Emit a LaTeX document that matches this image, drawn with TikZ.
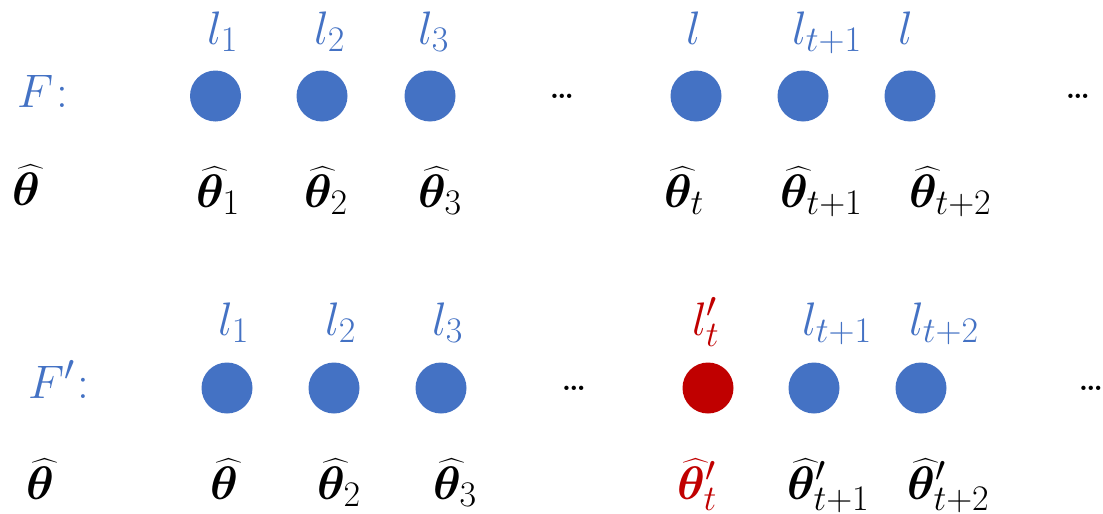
\RequirePackage{fix-cm}
\documentclass[tikz,border=0pt]{standalone}
\usepackage{amsmath,bm}
\DeclareMathSizes{47}{47}{36}{26}
\definecolor{pblue}{HTML}{4472C4}
\definecolor{pred}{HTML}{C00000}
\newcommand{\thh}{\widehat{\bm{\theta}}}
\begin{document}
\begin{tikzpicture}[x=1pt,y=-1pt,
  ball/.style={circle,fill=pblue,minimum size=51pt,inner sep=0pt},
  redball/.style={ball,fill=pred},
  lab/.style={anchor=base west,inner sep=0pt,font=\fontsize{47}{56}\selectfont},
  blab/.style={lab,text=pblue},
  rlab/.style={lab,text=pred},
  klab/.style={lab,text=black},
  dotsnode/.style={inner sep=0pt,font=\fontsize{30}{36}\selectfont\bfseries}]
\useasboundingbox (0,0) rectangle (1103,514);
% top row
\node[blab] (F) at (17,107) {$F$\kern3pt:};
\node[ball] (a1) at (215.5,96) {};
\node[ball] (a2) at (322,96) {};
\node[ball] (a3) at (430,96) {};
\node[ball] (a4) at (696,96) {};
\node[ball] (a5) at (803,96) {};
\node[ball] (a6) at (910,96) {};
\node[dotsnode] (d1) at (562,96) {\ldots};
\node[dotsnode] (d2) at (1078,96) {\ldots};
\node[blab] (la1) at (207,44) {$l_1$};
\node[blab] (la2) at (314,44) {$l_2$};
\node[blab] (la3) at (418,44) {$l_3$};
\node[blab] (la4) at (686,44) {$l$};
\node[blab] (la5) at (792,44) {$l_{t+1}$};
\node[blab] (la6) at (898,44) {$l$};
\node[klab] (ta0) at (12,205) {$\thh$};
\node[klab] (ta1) at (196,207) {$\thh_1$};
\node[klab] (ta2) at (304,207) {$\thh_2$};
\node[klab] (ta3) at (418,207) {$\thh_3$};
\node[klab] (ta4) at (664,207) {$\thh_t$};
\node[klab] (ta5) at (780,207) {$\thh_{t+1}$};
\node[klab] (ta6) at (909,207) {$\thh_{t+2}$};
% bottom row
\node[blab] (Fp) at (28,398) {$F'$\kern3pt:};
\node[ball] (b1) at (227,388) {};
\node[ball] (b2) at (334,388) {};
\node[ball] (b3) at (441,388) {};
\node[redball] (b4) at (708,388) {};
\node[ball] (b5) at (814,388) {};
\node[ball] (b6) at (921,388) {};
\node[dotsnode] (e1) at (574,388) {\ldots};
\node[dotsnode] (e2) at (1091,388) {\ldots};
\node[blab] (lb1) at (218,335) {$l_1$};
\node[blab] (lb2) at (325,335) {$l_2$};
\node[blab] (lb3) at (432,335) {$l_3$};
\node[rlab] (lb4) at (692,335) {$l'_t$};
\node[blab] (lb5) at (802,335) {$l_{t+1}$};
\node[blab] (lb6) at (909,335) {$l_{t+2}$};
\node[klab] (tb0) at (26,499) {$\thh$};
\node[klab] (tb1) at (210,499) {$\thh$};
\node[klab] (tb2) at (317,499) {$\thh_2$};
\node[klab] (tb3) at (433,499) {$\thh_3$};
\node[rlab] (tb4) at (677,499) {$\thh'_t$};
\node[klab] (tb5) at (787,499) {$\thh'_{t+1}$};
\node[klab] (tb6) at (907,499) {$\thh'_{t+2}$};
\end{tikzpicture}
\end{document}
